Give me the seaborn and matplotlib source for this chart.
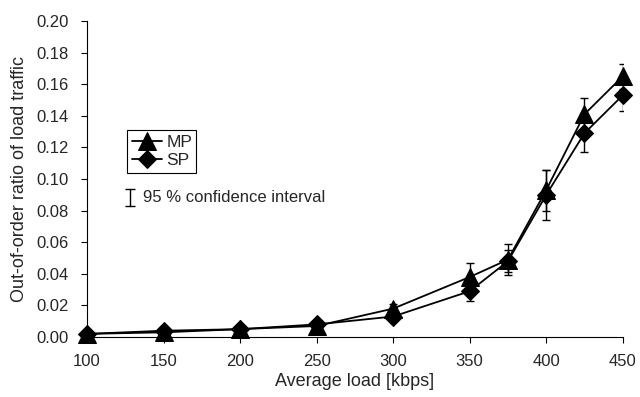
import numpy as np
import pandas as pd
import matplotlib
matplotlib.use("Agg")
import matplotlib.pyplot as plt
import seaborn as sns

# values
load_kbps = [100, 150, 200, 250, 300, 350, 375, 400, 425, 450]
mp_ratio = [0.002, 0.003, 0.005, 0.007, 0.018, 0.038, 0.049, 0.093, 0.141, 0.165]
sp_ratio = [0.002, 0.004, 0.005, 0.008, 0.013, 0.029, 0.048, 0.090, 0.129, 0.153]
mp_ci = [0.0005, 0.0005, 0.0008, 0.001, 0.003, 0.0088, 0.010, 0.013, 0.010, 0.008]
sp_ci = [0.0005, 0.0005, 0.0008, 0.001, 0.002, 0.006, 0.007, 0.016, 0.012, 0.010]
x_ticks = [100, 150, 200, 250, 300, 350, 400, 450]
y_ticks = [0.00, 0.02, 0.04, 0.06, 0.08, 0.10, 0.12, 0.14, 0.16, 0.18, 0.20]

sns.set_style("ticks")
plt.rcParams['font.family'] = ['Liberation Sans', 'DejaVu Sans']

df = pd.DataFrame({
    'load': load_kbps * 2,
    'ratio': mp_ratio + sp_ratio,
    'ci': mp_ci + sp_ci,
    'scheme': ['MP'] * len(load_kbps) + ['SP'] * len(load_kbps),
})

fig, ax = plt.subplots(figsize=(6.4, 3.97), dpi=100)
fig.subplots_adjust(left=0.136, right=0.973, bottom=0.151, top=0.947)

# confidence intervals first so the markers sit on top
for name, grp in df.groupby('scheme'):
    ax.errorbar(grp['load'], grp['ratio'], yerr=grp['ci'], fmt='none',
                ecolor='black', elinewidth=1, capsize=3, capthick=1, zorder=2)

sns.lineplot(data=df[df.scheme == 'MP'], x='load', y='ratio', color='black',
             marker='^', markersize=12.5, linewidth=1.3, label='MP', ax=ax,
             markeredgecolor='black', clip_on=False, zorder=3)
sns.lineplot(data=df[df.scheme == 'SP'], x='load', y='ratio', color='black',
             marker='D', markersize=9, linewidth=1.3, label='SP', ax=ax,
             markeredgecolor='black', clip_on=False, zorder=3)

ax.set_xlim(100, 450)
ax.set_ylim(0, 0.2)
ax.set_xticks(x_ticks)
ax.set_yticks(y_ticks)
ax.set_yticklabels([f'{v:.2f}' for v in y_ticks])
ax.tick_params(labelsize=12, length=4, width=0.8, color='black')
ax.tick_params(axis='x', pad=8)
ax.tick_params(axis='y', pad=9)
ax.set_xlabel('Average load [kbps]', fontsize=13, labelpad=3)
ax.set_ylabel('Out-of-order ratio of load traffic', fontsize=13, labelpad=6)
sns.despine(ax=ax)
for s in ['left', 'bottom']:
    ax.spines[s].set_color('black')
    ax.spines[s].set_linewidth(0.8)

leg = ax.legend(loc='lower left', bbox_to_anchor=(0.075, 0.52), borderaxespad=0,
                fontsize=12.5, handlelength=1.75, handletextpad=0.25, labelspacing=0.2,
                borderpad=0.25, fancybox=False, framealpha=1, edgecolor='black')
leg.get_frame().set_linewidth(0.8)

# confidence interval key
ax.plot([0.080, 0.080], [0.415, 0.468], color='black', lw=1, marker='_', ms=7,
        mew=1, transform=ax.transAxes, clip_on=False)
ax.text(0.104, 0.441, '95 % confidence interval', fontsize=12, va='center',
        ha='left', transform=ax.transAxes)

fig.savefig('out.png', dpi=100)
